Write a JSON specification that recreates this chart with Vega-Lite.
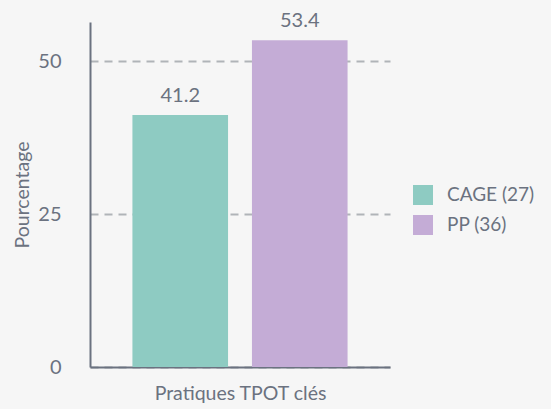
{
  "$schema": "https://vega.github.io/schema/vega-lite/v6.json",
  "autosize": "none",
  "padding": {"left": 90, "top": 22, "right": 161, "bottom": 42},
  "width": 300,
  "height": 345,
  "background": "#f6f6f6",
  "config": {
    "font": "Lato",
    "view": {"stroke": null},
    "axis": {"labelColor": "#6b7280", "titleColor": "#6b7280", "titleFontWeight": "normal"}
  },
  "data": {"values": [
    {"groupe": "CAGE (27)", "categorie": "Pratiques TPOT clés", "pourcentage": 41.2},
    {"groupe": "PP (36)", "categorie": "Pratiques TPOT clés", "pourcentage": 53.4}
  ]},
  "encoding": {
    "x": {
      "field": "groupe", "type": "nominal",
      "scale": {"paddingInner": 0.2, "paddingOuter": 0.355},
      "axis": {"title": "Pratiques TPOT clés", "labels": false, "ticks": false, "domainColor": "#6b7280", "domainWidth": 2, "titleFontSize": 19.5, "titlePadding": 17}
    },
    "y": {
      "field": "pourcentage", "type": "quantitative",
      "scale": {"domain": [0, 56.4], "nice": false},
      "axis": {"title": "Pourcentage", "values": [0, 25, 50], "ticks": false, "labelFontSize": 20, "labelPadding": 29, "titleFontSize": 19.5, "titlePadding": 5, "domainColor": "#6b7280", "domainWidth": 2, "gridColor": "#b0b4b8", "gridDash": [8, 6], "gridWidth": 2}
    }
  },
  "layer": [
    {
      "mark": {"type": "bar"},
      "encoding": {
        "color": {
          "field": "groupe", "type": "nominal",
          "scale": {"range": ["#8ecbc2", "#c4acd6"]},
          "legend": {"title": null, "orient": "none", "legendX": 323, "legendY": 163, "symbolType": "square", "symbolSize": 400, "symbolStrokeWidth": 0, "labelFontSize": 19, "labelColor": "#6b7280", "labelOffset": 14, "rowPadding": 10}
        }
      }
    },
    {
      "mark": {"type": "text", "dy": -9, "fontSize": 20, "color": "#6b7280", "baseline": "bottom"},
      "encoding": {"text": {"field": "pourcentage", "type": "quantitative", "format": ".1f"}}
    }
  ]
}
